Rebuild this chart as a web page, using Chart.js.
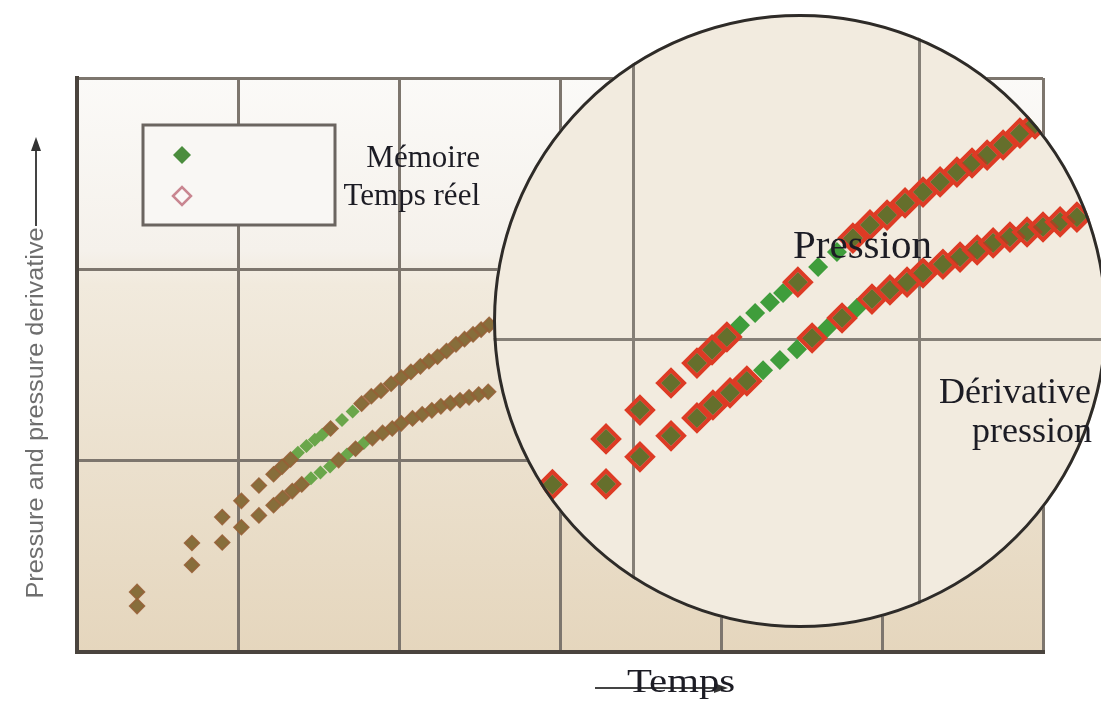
<!DOCTYPE html>
<html>
<head>
<meta charset="utf-8">
<script src="https://cdn.jsdelivr.net/npm/chart.js@4.4.1/dist/chart.umd.min.js"></script>
<style>
  body { margin: 0; background: #fff; }
  canvas { display: block; }
  #wrap { position: relative; width: 1101px; height: 702px; }
  #loupe { position: absolute; left: 492px; top: 13px; width: 616px; height: 616px; }
</style>
</head>
<body>
<div id="wrap">
  <canvas id="mainChart" width="1101" height="702"></canvas>
  <canvas id="loupe" width="616" height="616"></canvas>
</div>
<script>
//================== data (grid units: 1 = one grid cell) ==================
// pressure curve
const tPressure = [0.373, 0.714, 0.902, 1.021, 1.130, 1.221, 1.274, 1.326, 1.372, 1.425, 1.477, 1.523, 1.575, 1.646, 1.712, 1.768, 1.828, 1.888, 1.951, 2.014, 2.074, 2.133, 2.186, 2.239, 2.295, 2.354, 2.407, 2.46, 2.51, 2.56];
const pressure = [0.314, 0.570, 0.705, 0.790, 0.870, 0.929, 0.968, 1.006, 1.041, 1.077, 1.109, 1.136, 1.168, 1.213, 1.257, 1.298, 1.337, 1.366, 1.402, 1.434, 1.464, 1.493, 1.520, 1.543, 1.573, 1.608, 1.635, 1.66, 1.685, 1.71];
// pressure derivative curve
const tDerivative = [0.373, 0.714, 0.902, 1.021, 1.130, 1.221, 1.277, 1.337, 1.396, 1.453, 1.512, 1.572, 1.625, 1.677, 1.730, 1.782, 1.835, 1.898, 1.958, 2.014, 2.084, 2.144, 2.204, 2.260, 2.319, 2.379, 2.435, 2.495, 2.554];
const derivative = [0.240, 0.455, 0.572, 0.652, 0.714, 0.767, 0.805, 0.841, 0.876, 0.908, 0.938, 0.970, 1.003, 1.032, 1.062, 1.092, 1.118, 1.145, 1.168, 1.195, 1.221, 1.242, 1.263, 1.284, 1.301, 1.316, 1.331, 1.346, 1.360];
// samples the real-time link did not deliver (memory gauge only)
const rtMissingPressure = [1.372, 1.425, 1.477, 1.523, 1.646, 1.712];
const rtMissingDerivative = [1.453, 1.512, 1.572, 1.677, 1.782];
// axis ranges
const mainX = [0, 6];
const mainY = [0, 3];
const zoomX = [0.502, 2.663];
const zoomY = [0.1435, 1.963];
// texts
const legendLabels = ["Mémoire", "Temps réel"];
const yTitle = "Pressure and pressure derivative";
const xTitle = "Temps";
const curveLabels = ["Pression", "Dérivative", "pression"];

// ================== helpers ==================
function seriesPoints(times, values, skip) {
  const pts = [];
  times.forEach((t, i) => {
    if (!skip || !skip.includes(t)) pts.push({ x: t, y: values[i] });
  });
  return pts;
}

// memory = green filled diamonds, real time = red outlined diamonds on top
function makeDatasets(style) {
  const sets = [];
  [[tPressure, pressure, rtMissingPressure], [tDerivative, derivative, rtMissingDerivative]].forEach(([t, v, miss]) => {
    sets.push({
      label: legendLabels[0],
      data: seriesPoints(t, v),
      pointStyle: "rectRot",
      pointRadius: style.memRadius,
      pointHoverRadius: style.memRadius,
      pointBackgroundColor: style.memColor,
      pointBorderWidth: 0,
      order: 1,
    });
    sets.push({
      label: legendLabels[1],
      data: seriesPoints(t, v, miss),
      pointStyle: "rectRot",
      pointRadius: style.rtRadius,
      pointHoverRadius: style.rtRadius,
      pointBackgroundColor: style.rtFill,
      pointBorderColor: style.rtBorder,
      pointBorderWidth: style.rtBorderWidth,
      order: 0,
    });
  });
  return sets;
}

function hiddenAxis(range, grid, horizontal) {
  return {
    type: "linear",
    min: range[0],
    max: range[1],
    ticks: { display: false, stepSize: 1, includeBounds: false },
    grid: { color: grid.color, lineWidth: grid.width, drawTicks: false },
    border: grid.border,
    afterFit: (s) => {
      if (horizontal) s.height = 0;
      else s.width = 0;
    },
  };
}

// ================== plugins ==================
const plotBackground = {
  id: "plotBackground",
  beforeDraw(chart) {
    const { ctx, chartArea: a } = chart;
    const g = ctx.createLinearGradient(0, a.top, 0, a.bottom);
    g.addColorStop(0, "#fbfaf8");
    g.addColorStop(0.3, "#f5f1eb");
    g.addColorStop(0.36, "#f1eadd");
    g.addColorStop(1, "#e5d6bd");
    ctx.save();
    ctx.fillStyle = g;
    ctx.fillRect(a.left, a.top, a.right - a.left, a.bottom - a.top);
    ctx.restore();
  },
};

const legendBox = {
  id: "legendBox",
  afterDraw(chart) {
    const ctx = chart.ctx;
    ctx.save();
    ctx.fillStyle = "#f9f7f4";
    ctx.fillRect(143, 125, 192, 100);
    ctx.strokeStyle = "#6b6560";
    ctx.lineWidth = 3;
    ctx.strokeRect(143, 125, 192, 100);
    // markers
    ctx.fillStyle = "#4b8d3d";
    Chart.helpers.drawPoint(ctx, { pointStyle: "rectRot", radius: 9, rotation: 0, borderWidth: 0 }, 182, 155);
    ctx.fillStyle = "#fbf8f6";
    ctx.strokeStyle = "#c98690";
    ctx.lineWidth = 2.5;
    Chart.helpers.drawPoint(ctx, { pointStyle: "rectRot", radius: 9, rotation: 0, borderWidth: 2.5 }, 182, 196);
    // labels sit outside the box
    ctx.fillStyle = "#1c1c24";
    ctx.font = '31px "Liberation Serif", "Times New Roman", serif';
    ctx.textAlign = "right";
    ctx.textBaseline = "alphabetic";
    ctx.fillText(legendLabels[0], 480, 167);
    ctx.fillText(legendLabels[1], 480, 205);
    ctx.restore();
  },
};

const axisTitles = {
  id: "axisTitles",
  afterDraw(chart) {
    const ctx = chart.ctx;
    ctx.save();
    // y title, rotated, with arrow pointing up
    ctx.save();
    ctx.translate(36, 413);
    ctx.rotate(-Math.PI / 2);
    ctx.scale(1.15, 1.1);
    ctx.fillStyle = "#6e6e6e";
    ctx.font = '22px "Liberation Sans", Arial, sans-serif';
    ctx.textAlign = "center";
    ctx.textBaseline = "middle";
    ctx.fillText(yTitle, 0, 0);
    ctx.restore();
    ctx.strokeStyle = "#444";
    ctx.fillStyle = "#333";
    ctx.lineWidth = 2;
    ctx.beginPath();
    ctx.moveTo(36, 226);
    ctx.lineTo(36, 148);
    ctx.stroke();
    ctx.beginPath();
    ctx.moveTo(36, 137);
    ctx.lineTo(31, 151);
    ctx.lineTo(41, 151);
    ctx.closePath();
    ctx.fill();
    // x title with arrow pointing right
    ctx.beginPath();
    ctx.moveTo(595, 688);
    ctx.lineTo(716, 688);
    ctx.stroke();
    ctx.beginPath();
    ctx.moveTo(728, 688);
    ctx.lineTo(714, 683);
    ctx.lineTo(714, 693);
    ctx.closePath();
    ctx.fill();
    ctx.save();
    ctx.translate(627, 692);
    ctx.scale(1.2, 1);
    ctx.fillStyle = "#1c1c24";
    ctx.font = '34px "Liberation Serif", "Times New Roman", serif';
    ctx.textAlign = "left";
    ctx.textBaseline = "alphabetic";
    ctx.fillText(xTitle, 0, 0);
    ctx.restore();
    ctx.restore();
  },
};

// magnifier: clip everything to the disc, then draw rim and curve names
const lensClip = {
  id: "lensClip",
  beforeDraw(chart) {
    const ctx = chart.ctx;
    const r = chart.width / 2;
    ctx.save();
    ctx.beginPath();
    ctx.arc(r, r, r - 1, 0, Math.PI * 2);
    ctx.clip();
    ctx.fillStyle = "#f2ebdf";
    ctx.fillRect(0, 0, chart.width, chart.height);
  },
  afterDatasetsDraw(chart) {
    chart.ctx.restore();
  },
  afterDraw(chart) {
    const ctx = chart.ctx;
    const r = chart.width / 2;
    ctx.save();
    ctx.strokeStyle = "#2e2b28";
    ctx.lineWidth = 3;
    ctx.beginPath();
    ctx.arc(r, r, r - 2.5, 0, Math.PI * 2);
    ctx.stroke();
    ctx.fillStyle = "#1c1c24";
    ctx.textBaseline = "alphabetic";
    ctx.font = '41px "Liberation Serif", "Times New Roman", serif';
    ctx.textAlign = "left";
    ctx.fillText(curveLabels[0], 301, 245);
    ctx.font = '36px "Liberation Serif", "Times New Roman", serif';
    ctx.textAlign = "right";
    ctx.fillText(curveLabels[1], 599, 390);
    ctx.fillText(curveLabels[2], 600, 429);
    ctx.restore();
  },
};

// ================== charts ==================
const mainChart = new Chart(document.getElementById("mainChart"), {
  type: "scatter",
  data: {
    datasets: makeDatasets({
      memRadius: 7,
      memColor: "#6aa64a",
      rtRadius: 7.5,
      rtFill: "rgba(140, 100, 56, 0.85)",
      rtBorder: "rgba(150, 96, 54, 0.9)",
      rtBorderWidth: 1.5,
    }),
  },
  options: {
    responsive: false,
    animation: false,
    devicePixelRatio: 1,
    layout: { autoPadding: false, padding: { left: 77, right: 58, top: 78, bottom: 50 } },
    plugins: { legend: { display: false }, tooltip: { enabled: false } },
    scales: {
      x: hiddenAxis(mainX, { color: "#7d766e", width: 3, border: { color: "#4a443e", width: 4 } }, true),
      y: hiddenAxis(mainY, { color: "#7d766e", width: 3, border: { color: "#4a443e", width: 4 } }, false),
    },
  },
  plugins: [plotBackground, legendBox, axisTitles],
});

const zoomChart = new Chart(document.getElementById("loupe"), {
  type: "scatter",
  data: {
    datasets: makeDatasets({
      memRadius: 10,
      memColor: "#3f9d3b",
      rtRadius: 13,
      rtFill: "rgba(125, 82, 36, 0.62)",
      rtBorder: "#dd3b25",
      rtBorderWidth: 4,
    }),
  },
  options: {
    responsive: false,
    animation: false,
    devicePixelRatio: 1,
    layout: { autoPadding: false, padding: 0 },
    plugins: { legend: { display: false }, tooltip: { enabled: false } },
    scales: {
      x: hiddenAxis(zoomX, { color: "#857f77", width: 3, border: { display: false } }, true),
      y: hiddenAxis(zoomY, { color: "#857f77", width: 3, border: { display: false } }, false),
    },
  },
  plugins: [lensClip],
});
</script>
</body>
</html>
